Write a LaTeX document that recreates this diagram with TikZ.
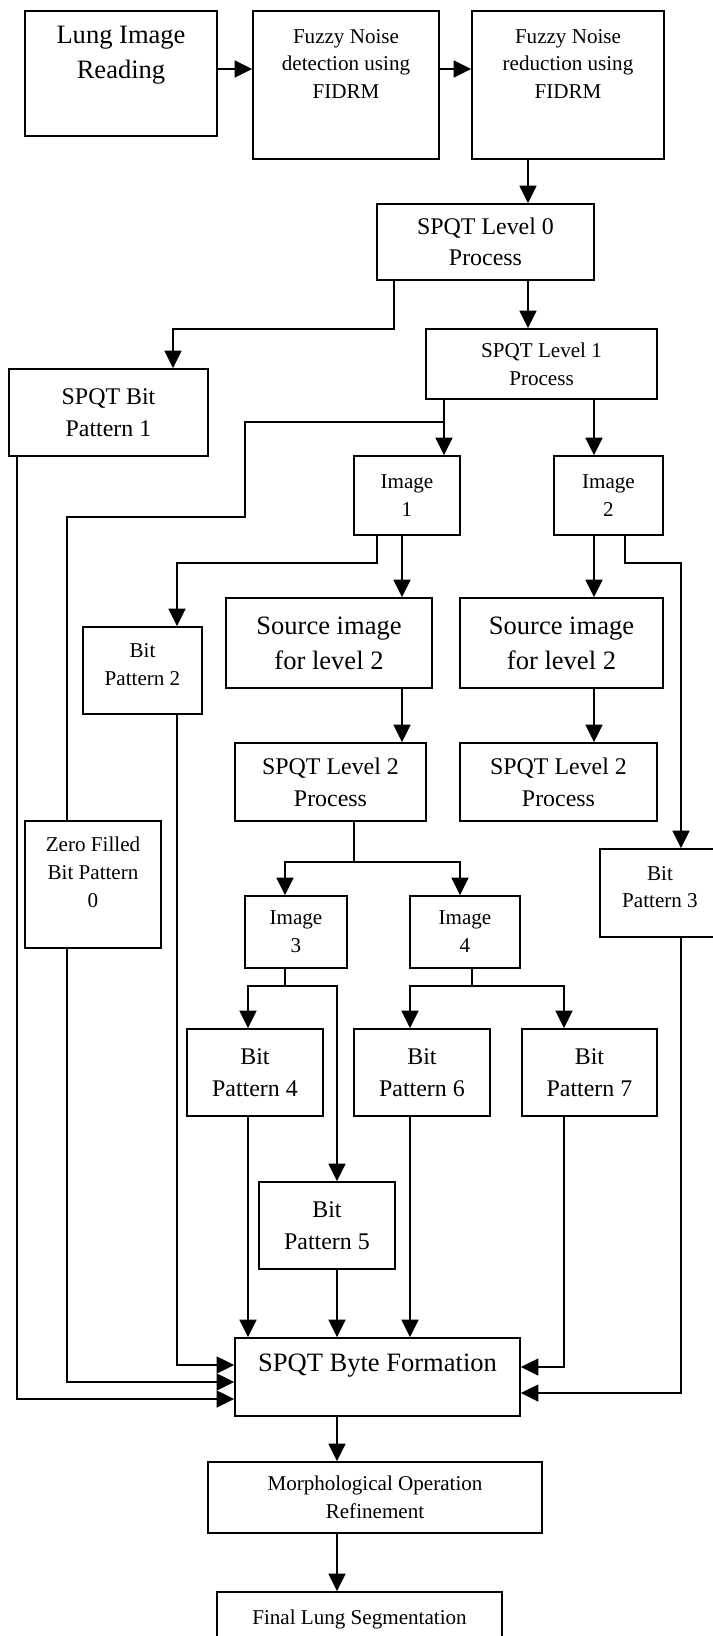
\documentclass[tikz,border=0pt]{standalone}
\usepackage{fontspec}
\setmainfont{Liberation Serif}
\usetikzlibrary{arrows.meta}

\begin{document}
\begin{tikzpicture}[
      blk/.style={draw, line width=0.9pt, align=center, inner sep=0pt},
      smtxt/.style={font=\fontsize{12}{15.9}\selectfont},
      mdtxt/.style={font=\fontsize{13.6}{18}\selectfont},
      lgtxt/.style={font=\fontsize{15.1}{19.9}\selectfont},
      arr/.style={-{Triangle[length=10pt, width=9.5pt]}, line width=1.4pt},
      ln/.style={line width=1pt}
    ]
    \useasboundingbox (0,0) rectangle (14.26,-32.72);

    % top row: reading and noise handling
    \node[blk, lgtxt, minimum width=3.85cm, minimum height=2.50cm, text depth=0.86cm]
          (lung) at (2.42,-1.47) {Lung Image\\Reading};
    \node[blk, smtxt, minimum width=3.72cm, minimum height=2.96cm, text depth=0.84cm]
          (fdet) at (6.92,-1.70) {Fuzzy Noise\\detection using\\FIDRM};
    \node[blk, smtxt, minimum width=3.84cm, minimum height=2.96cm, text depth=0.84cm]
          (fred) at (11.36,-1.70) {Fuzzy Noise\\reduction using\\FIDRM};

    % quadtree levels
    \node[blk, mdtxt, minimum width=4.34cm, minimum height=1.52cm]
          (lvl0) at (9.71,-4.84) {SPQT Level 0\\Process};
    \node[blk, smtxt, minimum width=4.62cm, minimum height=1.40cm]
          (lvl1) at (10.83,-7.28) {SPQT Level 1\\Process};
    \node[blk, mdtxt, minimum width=3.98cm, minimum height=1.74cm]
          (bitone) at (2.17,-8.25) {SPQT Bit\\Pattern 1};
    \node[blk, smtxt, minimum width=2.12cm, minimum height=1.58cm]
          (imgone) at (8.14,-9.91) {Image\\1};
    \node[blk, smtxt, minimum width=2.18cm, minimum height=1.58cm]
          (imgtwo) at (12.17,-9.91) {Image\\2};
    \node[blk, smtxt, minimum width=2.38cm, minimum height=1.74cm, text depth=0.24cm]
          (bittwo) at (2.85,-13.41) {Bit\\Pattern 2};
    \node[blk, lgtxt, minimum width=4.12cm, minimum height=1.80cm]
          (srcl) at (6.58,-12.86) {Source image\\for level 2};
    \node[blk, lgtxt, minimum width=4.06cm, minimum height=1.80cm]
          (srcr) at (11.23,-12.86) {Source image\\for level 2};
    \node[blk, mdtxt, minimum width=3.82cm, minimum height=1.56cm]
          (lvltwol) at (6.61,-15.64) {SPQT Level 2\\Process};
    \node[blk, mdtxt, minimum width=3.94cm, minimum height=1.56cm]
          (lvltwor) at (11.17,-15.64) {SPQT Level 2\\Process};
    \node[blk, smtxt, minimum width=2.73cm, minimum height=2.54cm, text depth=0.5cm]
          (zero) at (1.86,-17.69) {Zero Filled\\Bit Pattern\\0};
    \node[blk, smtxt, minimum width=2.40cm, minimum height=1.76cm, text depth=0.24cm]
          (bitthree) at (13.20,-17.86) {Bit\\Pattern 3};
    \node[blk, smtxt, minimum width=2.04cm, minimum height=1.44cm]
          (imgthree) at (5.92,-18.64) {Image\\3};
    \node[blk, smtxt, minimum width=2.20cm, minimum height=1.44cm]
          (imgfour) at (9.30,-18.64) {Image\\4};
    \node[blk, mdtxt, minimum width=2.72cm, minimum height=1.74cm]
          (bitfour) at (5.10,-21.45) {Bit\\Pattern 4};
    \node[blk, mdtxt, minimum width=2.72cm, minimum height=1.74cm]
          (bitsix) at (8.44,-21.45) {Bit\\Pattern 6};
    \node[blk, mdtxt, minimum width=2.70cm, minimum height=1.74cm]
          (bitseven) at (11.79,-21.45) {Bit\\Pattern 7};
    \node[blk, mdtxt, minimum width=2.72cm, minimum height=1.74cm]
          (bitfive) at (6.54,-24.51) {Bit\\Pattern 5};

    % output stages
    \node[blk, lgtxt, minimum width=5.70cm, minimum height=1.56cm, text depth=0.56cm]
          (byte) at (7.55,-27.54) {SPQT Byte Formation};
    \node[blk, smtxt, minimum width=6.68cm, minimum height=1.42cm]
          (morph) at (7.50,-29.95) {Morphological Operation\\Refinement};
    \node[blk, smtxt, minimum width=5.70cm, minimum height=1.10cm]
          (final) at (7.19,-32.39) {Final Lung Segmentation};

    \coordinate (jthree) at (7.08,-17.24);
    \coordinate (jfour)  at (5.70,-19.72);
    \coordinate (jfive)  at (9.44,-19.72);

    \draw[arr] (lung.east |- 0,-1.38) -- (fdet.west |- 0,-1.38);
    \draw[arr] (fdet.east |- 0,-1.38) -- (fred.west |- 0,-1.38);
    \draw[arr] (10.56,0 |- fred.south) -- (10.56,0 |- lvl0.north);
    \draw[arr] (7.88,0 |- lvl0.south) |- (3.46,-6.58) -- (3.46,0 |- bitone.north);
    \draw[arr] (10.56,0 |- lvl0.south) -- (10.56,0 |- lvl1.north);
    \draw[arr] (8.88,0 |- lvl1.south) -- (8.88,0 |- imgone.north);
    \draw[ln]  (8.88,0 |- lvl1.south) |- (4.90,-8.44) |- (1.34,-10.34)
               -- (1.34,0 |- zero.north);
    \draw[arr] (11.88,0 |- lvl1.south) -- (11.88,0 |- imgtwo.north);
    \draw[arr] (7.54,0 |- imgone.south) |- (3.54,-11.26) -- (3.54,0 |- bittwo.north);
    \draw[arr] (8.04,0 |- imgone.south) -- (8.04,0 |- srcl.north);
    \draw[arr] (11.88,0 |- imgtwo.south) -- (11.88,0 |- srcr.north);
    \draw[arr] (12.50,0 |- imgtwo.south) |- (13.62,-11.26) -- (13.62,0 |- bitthree.north);
    \draw[arr] (8.04,0 |- srcl.south) -- (8.04,0 |- lvltwol.north);
    \draw[arr] (11.88,0 |- srcr.south) -- (11.88,0 |- lvltwor.north);

    \draw[ln]  (7.08,0 |- lvltwol.south) -- (jthree);
    \draw[arr] (jthree) -| (5.70,0 |- imgthree.north);
    \draw[arr] (jthree) -| (9.20,0 |- imgfour.north);
    \draw[ln]  (5.70,0 |- imgthree.south) -- (jfour);
    \draw[arr] (jfour) -| (4.96,0 |- bitfour.north);
    \draw[arr] (jfour) -| (6.74,0 |- bitfive.north);
    \draw[ln]  (9.44,0 |- imgfour.south) -- (jfive);
    \draw[arr] (jfive) -| (8.20,0 |- bitsix.north);
    \draw[arr] (jfive) -| (11.28,0 |- bitseven.north);

    \draw[arr] (4.96,0 |- bitfour.south) -- (4.96,0 |- byte.north);
    \draw[arr] (6.74,0 |- bitfive.south) -- (6.74,0 |- byte.north);
    \draw[arr] (8.20,0 |- bitsix.south) -- (8.20,0 |- byte.north);
    \draw[arr] (3.54,0 |- bittwo.south) |- (byte.west |- 0,-27.30);
    \draw[arr] (1.34,0 |- zero.south) |- (byte.west |- 0,-27.64);
    \draw[arr] (0.34,0 |- bitone.south) |- (byte.west |- 0,-27.98);
    \draw[arr] (11.28,0 |- bitseven.south) |- (byte.east |- 0,-27.34);
    \draw[arr] (13.62,0 |- bitthree.south) |- (byte.east |- 0,-27.86);
    \draw[arr] (6.74,0 |- byte.south) -- (6.74,0 |- morph.north);
    \draw[arr] (6.74,0 |- morph.south) -- (6.74,0 |- final.north);
  \end{tikzpicture}
\end{document}
